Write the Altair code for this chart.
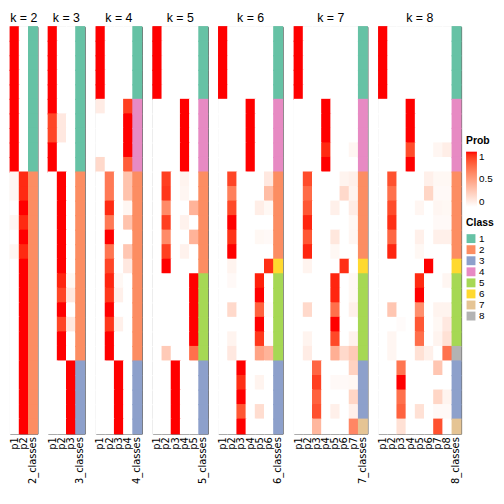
import altair as alt
import pandas as pd

# ---------------- data ----------------
CLASS_COLORS = ["#66C2A5", "#FC8D62", "#8DA0CB", "#E78AC3",
                "#A6D854", "#FFD92F", "#E5C494", "#B3B3B3"]
CLASS_NAMES = ["1", "2", "3", "4", "5", "6", "7", "8"]
K_VALUES = [2, 3, 4, 5, 6, 7, 8]

CLS2 = [1, 1, 1, 1, 1, 1, 1, 1, 1, 1, 2, 2, 2, 2, 2, 2, 2, 2, 2, 2, 2, 2, 2, 2, 2, 2, 2, 2]
CLS3 = [1, 1, 1, 1, 1, 1, 1, 1, 1, 1, 2, 2, 2, 2, 2, 2, 2, 2, 2, 2, 2, 2, 2, 3, 3, 3, 3, 3]
CLS4 = [1, 1, 1, 1, 1, 4, 4, 4, 4, 4, 2, 2, 2, 2, 2, 2, 2, 2, 2, 2, 2, 2, 2, 3, 3, 3, 3, 3]
CLS5 = [1, 1, 1, 1, 1, 4, 4, 4, 4, 4, 2, 2, 2, 2, 2, 2, 2, 5, 5, 5, 5, 5, 5, 3, 3, 3, 3, 3]
CLS6 = [1, 1, 1, 1, 1, 4, 4, 4, 4, 4, 2, 2, 2, 2, 2, 2, 6, 5, 5, 5, 5, 5, 5, 3, 3, 3, 3, 3]
CLS7 = [1, 1, 1, 1, 1, 4, 4, 4, 4, 4, 2, 2, 2, 2, 2, 2, 6, 5, 5, 5, 5, 5, 5, 3, 3, 3, 3, 7]
CLS8 = [1, 1, 1, 1, 1, 4, 4, 4, 4, 4, 2, 2, 2, 2, 2, 2, 6, 5, 5, 5, 5, 5, 8, 3, 3, 3, 3, 7]

P2 = [
    [1, 0], [1, 0], [1, 0], [1, 0], [1, 0], [1, 0], [1, 0], [1, 0], [1, 0], [1, 0],
    [0.05, 0.95], [0.05, 0.95], [0, 1], [0.05, 0.95], [0, 1], [0.05, 0.95],
    [0, 1], [0, 1], [0, 1], [0, 1], [0, 1], [0, 1], [0, 1], [0, 1], [0, 1], [0, 1], [0, 1], [0, 1],
]
P3 = [
    [1, 0, 0], [1, 0, 0], [1, 0, 0], [1, 0, 0], [1, 0, 0], [1, 0, 0],
    [0.88, 0.12, 0], [0.88, 0.12, 0], [1, 0, 0], [1, 0, 0],
    [0, 1, 0], [0, 1, 0], [0, 1, 0], [0, 1, 0], [0, 1, 0], [0, 1, 0], [0, 1, 0],
    [0, 0.96, 0.04], [0, 0.88, 0.12], [0, 1, 0], [0, 0.88, 0.12], [0, 1, 0], [0, 1, 0],
    [0, 0, 1], [0, 0, 1], [0, 0, 1], [0, 0, 1], [0, 0, 1],
]
P4 = [
    [1, 0, 0, 0], [1, 0, 0, 0], [1, 0, 0, 0], [1, 0, 0, 0], [1, 0, 0, 0],
    [0.1, 0, 0, 0.9], [0, 0, 0, 1], [0, 0, 0, 1], [0, 0, 0, 1], [0.2, 0, 0, 0.8],
    [0, 0.68, 0, 0.32], [0, 0.68, 0, 0.32], [0, 0.95, 0, 0.05], [0, 0.68, 0, 0.32],
    [0, 1, 0, 0], [0, 0.7, 0, 0.3], [0, 0.88, 0, 0.12], [0, 0.96, 0.04, 0],
    [0, 0.92, 0.08, 0], [0, 1, 0, 0], [0, 0.92, 0.08, 0], [0, 1, 0, 0], [0, 1, 0, 0],
    [0, 0, 1, 0], [0, 0, 1, 0], [0, 0, 1, 0], [0, 0, 1, 0], [0, 0, 1, 0],
]
P5 = [
    [1, 0, 0, 0, 0], [1, 0, 0, 0, 0], [1, 0, 0, 0, 0], [1, 0, 0, 0, 0], [1, 0, 0, 0, 0],
    [0, 0, 0, 1, 0], [0, 0, 0, 1, 0], [0, 0, 0, 1, 0], [0, 0, 0, 1, 0], [0, 0, 0, 1, 0],
    [0, 0.9, 0, 0.06, 0], [0, 0.92, 0, 0.05, 0], [0, 0.6, 0, 0, 0.4], [0, 0.9, 0, 0.07, 0],
    [0, 0.6, 0, 0, 0.4], [0, 0.9, 0, 0.07, 0], [0, 1, 0, 0, 0],
    [0, 0, 0, 0, 1], [0, 0, 0, 0, 1], [0, 0, 0, 0, 1], [0, 0, 0, 0, 1], [0, 0, 0, 0, 1],
    [0, 0.28, 0, 0, 0.72],
    [0, 0, 1, 0, 0], [0, 0, 1, 0, 0], [0, 0, 1, 0, 0], [0, 0, 1, 0, 0], [0, 0, 1, 0, 0],
]
P6 = [
    [1, 0, 0, 0, 0, 0], [1, 0, 0, 0, 0, 0], [1, 0, 0, 0, 0, 0], [1, 0, 0, 0, 0, 0], [1, 0, 0, 0, 0, 0],
    [0, 0, 0, 1, 0, 0], [0, 0, 0, 1, 0, 0], [0, 0, 0, 1, 0, 0], [0, 0, 0, 1, 0, 0], [0, 0, 0, 1, 0, 0],
    [0, 0.88, 0, 0, 0, 0.12], [0, 0.65, 0, 0, 0, 0.35], [0, 0.87, 0, 0, 0.09, 0.04],
    [0, 1, 0, 0, 0, 0], [0, 0.93, 0, 0, 0.04, 0.03], [0, 1, 0, 0, 0, 0],
    [0, 0.06, 0, 0, 0, 0.94],
    [0, 0.03, 0, 0, 0.97, 0], [0, 0, 0, 0, 1, 0], [0, 0.2, 0, 0, 0.78, 0.02],
    [0, 0, 0, 0, 1, 0], [0, 0.06, 0, 0, 0.92, 0.02], [0, 0.12, 0, 0, 0.48, 0.4],
    [0, 0, 1, 0, 0, 0], [0, 0, 0.94, 0, 0.06, 0], [0, 0, 1, 0, 0, 0],
    [0, 0, 0.82, 0, 0.18, 0], [0, 0, 1, 0, 0, 0],
]
P7 = [
    [1, 0, 0, 0, 0, 0, 0], [1, 0, 0, 0, 0, 0, 0], [1, 0, 0, 0, 0, 0, 0], [1, 0, 0, 0, 0, 0, 0],
    [1, 0, 0, 0, 0, 0, 0],
    [0, 0, 0, 1, 0, 0, 0], [0, 0, 0, 1, 0, 0, 0], [0, 0, 0, 1, 0, 0, 0],
    [0, 0, 0, 0.95, 0, 0, 0.05], [0, 0, 0, 1, 0, 0, 0],
    [0, 0.86, 0, 0, 0, 0.06, 0.08], [0, 0.74, 0, 0, 0, 0.2, 0.06], [0, 0.82, 0, 0, 0.08, 0, 0.1],
    [0, 0.96, 0, 0, 0, 0, 0.04], [0, 0.82, 0, 0, 0.13, 0, 0.05], [0, 0.96, 0, 0, 0.04, 0, 0],
    [0, 0.06, 0, 0, 0, 0.94, 0],
    [0, 0, 0, 0, 0.96, 0, 0.04], [0, 0, 0, 0, 0.96, 0, 0.04], [0, 0.2, 0, 0, 0.72, 0, 0.08],
    [0, 0, 0, 0, 1, 0, 0], [0, 0.06, 0, 0, 0.87, 0, 0.07], [0, 0.1, 0, 0, 0.42, 0.2, 0.28],
    [0, 0, 0.76, 0, 0, 0, 0.24], [0, 0, 0.9, 0, 0.03, 0.03, 0.04], [0, 0, 0.78, 0, 0, 0, 0.22],
    [0, 0, 0.84, 0, 0.08, 0, 0.08],
    [0, 0, 0.38, 0, 0, 0, 0.62],
]
P8 = [
    [1, 0, 0, 0, 0, 0, 0, 0], [1, 0, 0, 0, 0, 0, 0, 0], [1, 0, 0, 0, 0, 0, 0, 0],
    [1, 0, 0, 0, 0, 0, 0, 0], [1, 0, 0, 0, 0, 0, 0, 0],
    [0, 0, 0, 1, 0, 0, 0, 0], [0, 0, 0, 1, 0, 0, 0, 0], [0, 0, 0, 1, 0, 0, 0, 0],
    [0, 0, 0, 0.86, 0, 0, 0.05, 0.09], [0, 0, 0, 1, 0, 0, 0, 0],
    [0, 0.84, 0, 0, 0, 0.08, 0.04, 0.04], [0, 0.72, 0, 0, 0, 0.22, 0.03, 0.03],
    [0, 0.86, 0, 0, 0.05, 0, 0.05, 0.04], [0, 0.94, 0, 0, 0, 0, 0.03, 0.03],
    [0, 0.76, 0, 0, 0.08, 0, 0.08, 0.08], [0, 0.96, 0, 0, 0.04, 0, 0, 0],
    [0, 0, 0, 0, 0, 1, 0, 0],
    [0, 0, 0, 0, 0.95, 0, 0, 0.05], [0, 0, 0, 0, 1, 0, 0, 0], [0, 0.3, 0, 0, 0.58, 0, 0.06, 0.06],
    [0, 0, 0.02, 0, 0.82, 0, 0.04, 0.12], [0, 0.05, 0, 0, 0.73, 0, 0.06, 0.16],
    [0, 0.05, 0, 0, 0.16, 0.08, 0, 0.71],
    [0, 0, 0.7, 0, 0, 0, 0.3, 0], [0, 0, 1, 0, 0, 0, 0, 0], [0, 0, 0.72, 0, 0, 0, 0.22, 0.06],
    [0, 0, 0.78, 0, 0.16, 0, 0.03, 0.03],
    [0, 0, 0.16, 0, 0, 0, 0.84, 0],
]

PROBS = {2: P2, 3: P3, 4: P4, 5: P5, 6: P6, 7: P7, 8: P8}
CLASSES = {2: CLS2, 3: CLS3, 4: CLS4, 5: CLS5, 6: CLS6, 7: CLS7, 8: CLS8}

# ---------------- chart ----------------
STEP = 9.3
HEIGHT = 412
FONT = "Liberation Sans"
OVERLAP = {"band": 1.08}

charts = []
for k in K_VALUES:
    cols = [f"p{i + 1}" for i in range(k)] + [f"{k}_classes"]
    prob_rows = []
    for r, vals in enumerate(PROBS[k]):
        for j, v in enumerate(vals):
            prob_rows.append({"row": r, "col": f"p{j + 1}", "prob": v})
    cls_rows = [{"row": r, "col": f"{k}_classes", "cls": str(c)}
                for r, c in enumerate(CLASSES[k])]

    xenc = alt.X("col:N",
                 scale=alt.Scale(domain=cols, paddingInner=0, paddingOuter=0, round=False),
                 axis=alt.Axis(title=None, labelAngle=270, ticks=False, domain=False,
                               labelPadding=3, labelFontSize=10, labelFont="DejaVu Sans",
                               labelColor="#000000", labelAlign="right",
                               labelBaseline="middle"))
    yenc = alt.Y("row:O", scale=alt.Scale(paddingInner=0, paddingOuter=0, round=False),
                 axis=None)

    last = (k == K_VALUES[-1])
    W = STEP * (k + 1)
    if last:
        prob_legend = alt.Legend(title="Prob", type="gradient", orient="none",
                                 legendX=W + 5, legendY=111,
                                 gradientLength=56, gradientThickness=11,
                                 gradientStrokeWidth=0, values=[0, 0.5, 1], format="~g",
                                 labelFontSize=10, labelOffset=2, titleFontSize=10.5,
                                 titleFontWeight="bold", direction="vertical")
        cls_legend = alt.Legend(title="Class", orient="none", legendX=W + 5, legendY=194,
                                symbolType="square", symbolSize=81, symbolStrokeWidth=0,
                                rowPadding=1.2, labelFontSize=10, labelOffset=3,
                                titleFontSize=10.5, titleFontWeight="bold")
    else:
        prob_legend = None
        cls_legend = None

    prob_scale = alt.Scale(domain=[0, 1], range=["#FFFFFF", "#FF0000"], interpolate="lab")
    cls_scale = alt.Scale(domain=CLASS_NAMES, range=CLASS_COLORS)

    prob_layer = alt.Chart(pd.DataFrame(prob_rows)).mark_rect(
        width=OVERLAP, height=OVERLAP).encode(
        x=xenc, y=yenc,
        color=alt.Color("prob:Q", scale=prob_scale, legend=prob_legend))
    cls_layer = alt.Chart(pd.DataFrame(cls_rows)).mark_rect(
        width=OVERLAP, height=OVERLAP).encode(
        x=xenc, y=yenc,
        color=alt.Color("cls:N", scale=cls_scale, legend=cls_legend))

    ch = alt.layer(prob_layer, cls_layer).resolve_scale(color="independent").properties(
        width=W, height=HEIGHT,
        title=alt.TitleParams(f"k = {k}", fontSize=12.5, font=FONT, fontWeight="normal",
                              anchor="middle", offset=2, color="#000000"))
    charts.append(ch)

chart = alt.hconcat(*charts, spacing=10.5, bounds="flush").resolve_scale(
    color="independent").properties(
    padding={"left": 0, "top": 0, "right": 0, "bottom": 0}
).configure_view(stroke="#555555", strokeWidth=1).configure_legend(
    labelFont=FONT, titleFont=FONT, labelColor="#000000", titleColor="#000000"
)

chart.save("out.html", embed_options={"renderer": "svg", "actions": False})
